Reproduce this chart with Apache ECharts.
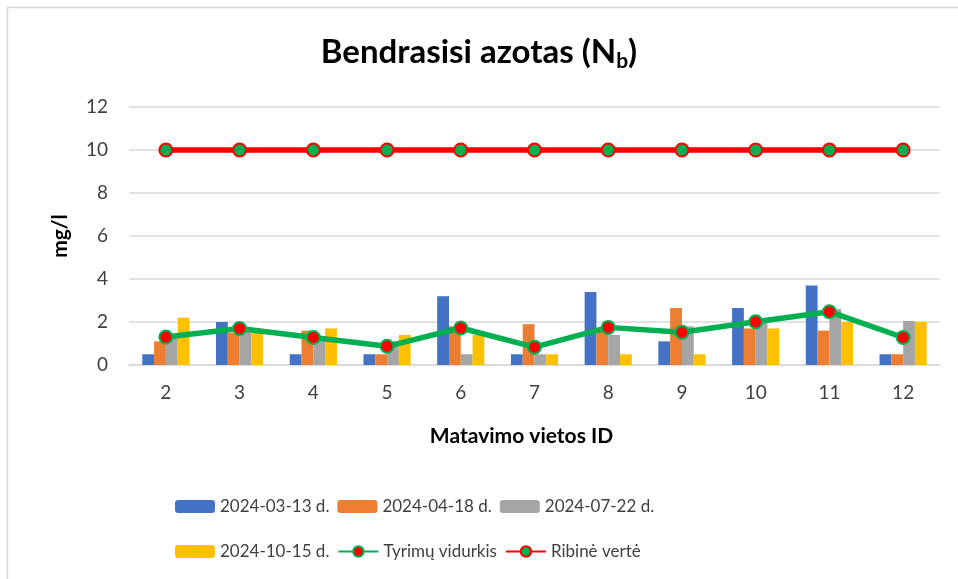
<!DOCTYPE html>
<html>
<head>
<meta charset="utf-8">
<script src="https://cdn.jsdelivr.net/npm/echarts@6/dist/echarts.min.js"></script>
<style>
  html, body { margin: 0; padding: 0; background: #fff; }
  #main { width: 958px; height: 579px; }
</style>
</head>
<body>
<div id="main"></div>
<script>
// matavimo vietos
var categories = ['2', '3', '4', '5', '6', '7', '8', '9', '10', '11', '12'];
var seriesNames = ['2024-03-13 d.', '2024-04-18 d.', '2024-07-22 d.', '2024-10-15 d.', 'Tyrimų vidurkis', 'Ribinė vertė'];

var d0313 = [0.5, 2.0, 0.5, 0.5, 3.2, 0.5, 3.4, 1.1, 2.65, 3.7, 0.5];
var d0418 = [1.1, 1.5, 1.6, 0.5, 1.8, 1.9, 1.7, 2.65, 1.7, 1.6, 0.5];
var d0722 = [1.4, 1.7, 1.3, 1.1, 0.5, 0.5, 1.4, 1.8, 2.0, 2.6, 2.05];
var d1015 = [2.2, 1.5, 1.7, 1.4, 1.4, 0.5, 0.5, 0.5, 1.7, 2.0, 2.0];
var vidurkis = [1.3, 1.7, 1.28, 0.87, 1.72, 0.83, 1.75, 1.52, 2.01, 2.48, 1.28];
var ribine = [10, 10, 10, 10, 10, 10, 10, 10, 10, 10, 10];

var barColors = ['#4472C4', '#ED7D31', '#A5A5A5', '#FFC000'];
var FONT = 'Lato';

var chart = echarts.init(document.getElementById('main'));

function barSeries(i, data) {
  return {
    name: seriesNames[i],
    type: 'bar',
    data: data,
    barGap: '0%',
    barCategoryGap: '36%',
    itemStyle: { color: barColors[i] },
    z: 2
  };
}

var legendText = { fontFamily: FONT, fontSize: 17, color: '#404040', width: 112 };

var option = {
  backgroundColor: '#ffffff',
  animation: false,
  title: {
    text: '{a|Bendrasisi azotas (N}{s|b}{a|)}',
    left: 'center',
    top: 32,
    padding: [0, 0, 0, 30],
    textStyle: {
      rich: {
        a: { fontFamily: FONT, fontSize: 33, fontWeight: 'bold', color: '#000', lineHeight: 40 },
        s: { fontFamily: FONT, fontSize: 21, fontWeight: 'bold', color: '#000', lineHeight: 40, padding: [18, 0, 0, 0] }
      }
    }
  },
  graphic: [{
    type: 'rect',
    shape: { x: 7.5, y: 7.5, width: 1000, height: 1000 },
    style: { fill: 'none', stroke: '#D9D9D9', lineWidth: 1.5 },
    silent: true
  }],
  legend: [{
    data: seriesNames.slice(0, 3),
    left: 170,
    top: 493,
    itemWidth: 40,
    itemHeight: 13,
    itemGap: 8,
    textStyle: legendText
  }, {
    data: seriesNames.slice(3),
    left: 170,
    top: 538,
    itemWidth: 40,
    itemHeight: 13,
    itemGap: 8,
    textStyle: legendText
  }],
  grid: { left: 129, right: 18, top: 107, bottom: 214 },
  xAxis: {
    type: 'category',
    data: categories,
    name: 'Matavimo vietos ID',
    nameLocation: 'middle',
    nameGap: 61,
    nameTextStyle: { fontFamily: FONT, fontSize: 21, fontWeight: 'bold', color: '#000', padding: [0, 26, 0, 0] },
    axisLine: { lineStyle: { color: '#D9D9D9', width: 1.5 } },
    axisTick: { show: false },
    axisLabel: { fontFamily: FONT, fontSize: 19, color: '#404040', margin: 18 }
  },
  yAxis: {
    type: 'value',
    min: 0,
    max: 12,
    interval: 2,
    name: 'mg/l',
    nameLocation: 'middle',
    nameGap: 58,
    nameTextStyle: { fontFamily: FONT, fontSize: 21, fontWeight: 'bold', color: '#000' },
    axisLine: { show: false },
    axisTick: { show: false },
    axisLabel: { fontFamily: FONT, fontSize: 19, color: '#404040', margin: 21 },
    splitLine: { lineStyle: { color: '#D9D9D9', width: 1.5 } }
  },
  series: [
    barSeries(0, d0313),
    barSeries(1, d0418),
    barSeries(2, d0722),
    barSeries(3, d1015),
    {
      name: seriesNames[4],
      type: 'line',
      data: vidurkis,
      symbol: 'circle',
      symbolSize: 13,
      lineStyle: { color: '#00B050', width: 5.5 },
      itemStyle: { color: '#FF0000', borderColor: '#00B050', borderWidth: 2 },
      z: 5
    },
    {
      name: seriesNames[5],
      type: 'line',
      data: ribine,
      symbol: 'circle',
      symbolSize: 13,
      lineStyle: { color: '#FF0000', width: 5.5 },
      itemStyle: { color: '#00B050', borderColor: '#FF0000', borderWidth: 2 },
      z: 5
    }
  ]
};

chart.setOption(option);
</script>
</body>
</html>
